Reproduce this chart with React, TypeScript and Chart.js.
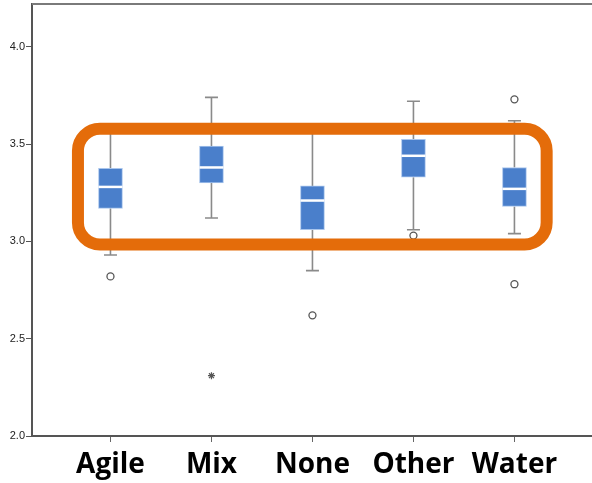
import React, { useEffect, useRef } from "react";
import { Chart, registerables } from "chart.js";

Chart.register(...registerables);

const CATEGORIES = ["Agile", "Mix", "None", "Other", "Water"];
const Q1 = [3.17, 3.30, 3.06, 3.33, 3.18];
const MEDIAN = [3.28, 3.38, 3.21, 3.44, 3.27];
const Q3 = [3.375, 3.49, 3.285, 3.525, 3.38];
const WHISKER_LOW = [2.93, 3.12, 2.85, 3.06, 3.04];
const WHISKER_HIGH = [3.57, 3.74, 3.57, 3.72, 3.62];
const OUTLIERS: number[][] = [[2.82], [], [2.62], [3.03], [3.73, 2.78]];
const EXTREMES: number[][] = [[], [2.31], [], [], []];
const Y_TICKS = [2.0, 2.5, 3.0, 3.5, 4.0];
const Y_MIN = 2.0;
const Y_MAX = 4.22;
const X_MIN = -0.777;
const X_MAX = 4.768;
// highlight frame in data units
const HIGHLIGHT = { xMin: -0.322, xMax: 4.319, yMin: 2.984, yMax: 3.579 };

const boxPlugin = {
  id: "boxExtras",
  beforeDatasetsDraw(chart: any) {
    const { ctx } = chart;
    const xs = chart.scales.x;
    const ys = chart.scales.y;
    ctx.save();
    ctx.strokeStyle = "#8a8a8a";
    ctx.lineWidth = 1.6;
    CATEGORIES.forEach((_, i) => {
      const x = xs.getPixelForValue(i);
      const lo = ys.getPixelForValue(WHISKER_LOW[i]);
      const hi = ys.getPixelForValue(WHISKER_HIGH[i]);
      const q1 = ys.getPixelForValue(Q1[i]);
      const q3 = ys.getPixelForValue(Q3[i]);
      ctx.beginPath();
      ctx.moveTo(x, hi);
      ctx.lineTo(x, q3);
      ctx.moveTo(x, q1);
      ctx.lineTo(x, lo);
      ctx.moveTo(x - 6.5, hi);
      ctx.lineTo(x + 6.5, hi);
      ctx.moveTo(x - 6.5, lo);
      ctx.lineTo(x + 6.5, lo);
      ctx.stroke();
    });
    ctx.restore();
  },
  afterDatasetsDraw(chart: any) {
    const { ctx } = chart;
    const xs = chart.scales.x;
    const ys = chart.scales.y;
    ctx.save();
    ctx.strokeStyle = "#ffffff";
    ctx.lineWidth = 2.5;
    CATEGORIES.forEach((_, i) => {
      const x = xs.getPixelForValue(i);
      const m = ys.getPixelForValue(MEDIAN[i]);
      ctx.beginPath();
      ctx.moveTo(x - 12, m);
      ctx.lineTo(x + 12, m);
      ctx.stroke();
    });
    ctx.restore();
  },
  afterDraw(chart: any) {
    const { ctx, chartArea } = chart;
    const xs = chart.scales.x;
    const ys = chart.scales.y;
    ctx.save();
    // top frame line
    ctx.strokeStyle = "#7a7a7a";
    ctx.lineWidth = 2;
    ctx.beginPath();
    ctx.moveTo(chartArea.left, chartArea.top);
    ctx.lineTo(chartArea.right, chartArea.top);
    ctx.stroke();
    // orange highlight frame
    const l = xs.getPixelForValue(HIGHLIGHT.xMin);
    const r = xs.getPixelForValue(HIGHLIGHT.xMax);
    const t = ys.getPixelForValue(HIGHLIGHT.yMax);
    const b = ys.getPixelForValue(HIGHLIGHT.yMin);
    ctx.strokeStyle = "#E46C0A";
    ctx.lineWidth = 12;
    ctx.beginPath();
    (ctx as any).roundRect(l, t, r - l, b - t, 22);
    ctx.stroke();
    ctx.restore();
  },
};

export default function App() {
  const ref = useRef<HTMLCanvasElement>(null);
  useEffect(() => {
    document.body.style.margin = "0";
    const canvas = ref.current!;
    const outlierPts = OUTLIERS.flatMap((arr, i) => arr.map((v) => ({ x: i, y: v })));
    const extremePts = EXTREMES.flatMap((arr, i) => arr.map((v) => ({ x: i, y: v })));
    const chart = new Chart(canvas, {
      type: "bar",
      data: {
        datasets: [
          {
            type: "bar",
            data: CATEGORIES.map((_, i) => ({ x: i, y: [Q1[i], Q3[i]] })) as any,
            backgroundColor: "#4A7FCB",
            borderColor: "#A9C5EC",
            borderWidth: 1,
            borderSkipped: false,
            barThickness: 24,
          },
          {
            type: "scatter",
            data: outlierPts,
            pointStyle: "circle",
            pointRadius: 3.5,
            backgroundColor: "#ffffff",
            borderColor: "#555555",
            borderWidth: 1.3,
          },
          {
            type: "scatter",
            data: extremePts,
            pointStyle: "star",
            pointRadius: 3.5,
            backgroundColor: "#555555",
            borderColor: "#555555",
            borderWidth: 1.2,
          },
        ] as any,
      },
      options: {
        responsive: false,
        animation: false,
        layout: { autoPadding: false, padding: { top: 4, left: 0, right: 0, bottom: 0 } },
        plugins: { legend: { display: false }, tooltip: { enabled: false } },
        scales: {
          x: {
            type: "linear",
            min: X_MIN,
            max: X_MAX,
            offset: false,
            afterBuildTicks: (s: any) => {
              s.ticks = CATEGORIES.map((_, i) => ({ value: i }));
            },
            afterFit: (s: any) => {
              s.height = 47;
              s.paddingLeft = 0;
              s.paddingRight = 0;
            },
            ticks: {
              callback: (v: any) => CATEGORIES[Math.round(v)] ?? "",
              color: "#000000",
              font: { family: "'Open Sans'", size: 28, weight: "bold" },
              padding: 6,
              maxRotation: 0,
              autoSkip: false,
            },
            grid: { offset: false, drawOnChartArea: false, drawTicks: true, tickLength: 6, color: "#666666" },
            border: { display: true, color: "#555555", width: 2 },
          },
          y: {
            type: "linear",
            min: Y_MIN,
            max: Y_MAX,
            afterBuildTicks: (s: any) => {
              s.ticks = Y_TICKS.map((v) => ({ value: v }));
            },
            afterFit: (s: any) => {
              s.width = 32;
              s.paddingTop = 0;
              s.paddingBottom = 0;
            },
            ticks: {
              callback: (v: any) => Number(v).toFixed(1),
              color: "#222222",
              font: { family: "'Liberation Sans'", size: 11 },
              padding: 1,
            },
            grid: { drawOnChartArea: false, drawTicks: true, tickLength: 6, color: "#555555" },
            border: { display: true, color: "#555555", width: 2 },
          },
        },
      },
      plugins: [boxPlugin],
    });
    return () => chart.destroy();
  }, []);
  return <canvas ref={ref} width={592} height={483} style={{ display: "block" }} />;
}
